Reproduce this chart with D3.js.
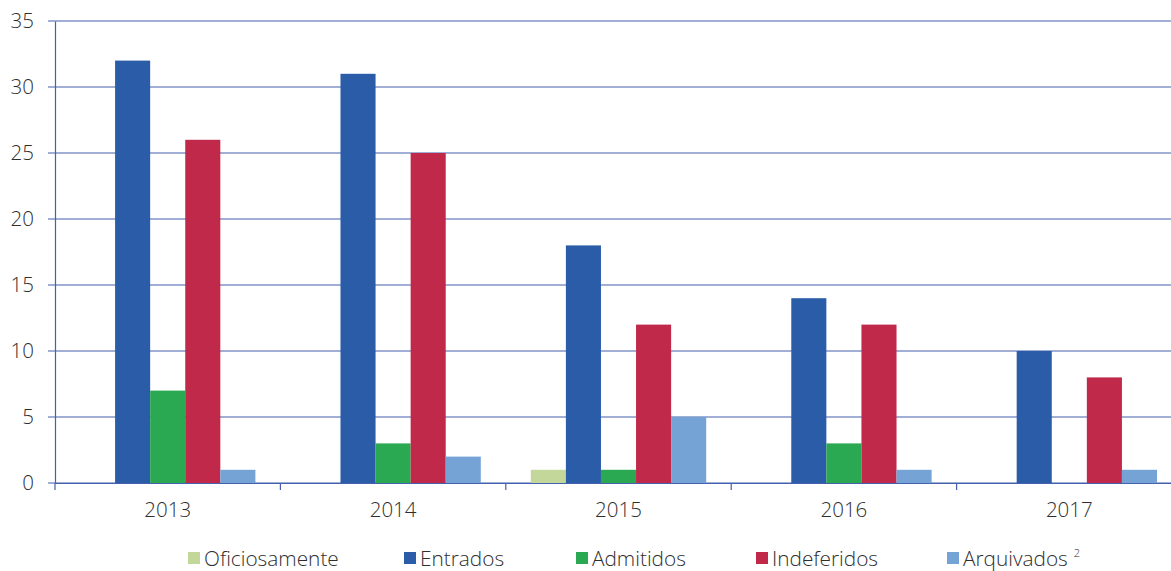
<!DOCTYPE html>
<html>
<head>
<meta charset="utf-8">
<script src="https://cdn.jsdelivr.net/npm/d3@7"></script>
<style>
  body { margin: 0; background: #fff; }
  svg { display: block; font-family: "Open Sans", sans-serif; }
  svg text { font-family: "Open Sans", sans-serif; fill: #2e2e2e; font-weight: 300; }
</style>
</head>
<body>
<svg id="chart" width="1171" height="571"></svg>
<script>
var years = ["2013", "2014", "2015", "2016", "2017"];
var seriesNames = ["Oficiosamente", "Entrados", "Admitidos", "Indeferidos", "Arquivados"];
var oficiosamente = [0, 0, 1, 0, 0];
var entrados = [32, 31, 18, 14, 10];
var admitidos = [7, 3, 1, 3, 0];
var indeferidos = [26, 25, 12, 12, 8];
var arquivados = [1, 2, 5, 1, 1];
var yTicks = [0, 5, 10, 15, 20, 25, 30, 35];

var colors = ["#c4d79b", "#2b5ca8", "#2aa952", "#c0294a", "#75a3d6"];
var values = [oficiosamente, entrados, admitidos, indeferidos, arquivados];

var svg = d3.select("#chart");
var mLeft = 55, mRight = 1182, mTop = 21, mBottom = 483;
var axisColor = "#4560ad";

var x = d3.scaleBand().domain(years).range([mLeft, mRight]).padding(0);
var xs = d3.scaleBand().domain(seriesNames).range([25, x.bandwidth() - 25]).padding(0);
var y = d3.scaleLinear().domain([0, 35]).range([mBottom, mTop]);

// grid lines
svg.append("g").selectAll("line")
  .data(yTicks).enter().append("line")
  .attr("x1", mLeft - 7).attr("x2", mRight)
  .attr("y1", function(d) { return y(d); })
  .attr("y2", function(d) { return y(d); })
  .attr("stroke", axisColor).attr("stroke-width", 1.2);

// bars
var groups = svg.append("g").selectAll("g")
  .data(years).enter().append("g")
  .attr("transform", function(d) { return "translate(" + x(d) + ",0)"; });

groups.selectAll("rect")
  .data(function(d, i) {
    return seriesNames.map(function(s, j) { return { s: s, v: values[j][i], c: colors[j] }; });
  })
  .enter().append("rect")
  .filter(function(d) { return d.v > 0; })
  .attr("x", function(d) { return xs(d.s); })
  .attr("width", xs.bandwidth())
  .attr("y", function(d) { return y(d.v); })
  .attr("height", function(d) { return mBottom - y(d.v); })
  .attr("fill", function(d) { return d.c; });

// y axis
var yAxis = svg.append("g")
  .attr("transform", "translate(" + mLeft + ",0)")
  .call(d3.axisLeft(y).tickValues(yTicks).tickSize(0).tickPadding(21));
yAxis.attr("font-family", null).attr("font-size", null);
yAxis.select(".domain").attr("stroke", axisColor).attr("stroke-width", 1.2);
yAxis.selectAll(".tick text").attr("font-size", 20.5).attr("dy", "0.33em");

// x axis
var xAxis = svg.append("g")
  .attr("transform", "translate(0," + mBottom + ")")
  .call(d3.axisBottom(x).tickSize(0).tickPadding(19));
xAxis.attr("font-family", null).attr("font-size", null);
xAxis.select(".domain").attr("stroke", axisColor).attr("stroke-width", 1.2);
xAxis.selectAll(".tick text").attr("font-size", 20.5);

// boundary ticks
svg.append("g").selectAll("line")
  .data(years).enter().append("line")
  .attr("x1", function(d) { return x(d); })
  .attr("x2", function(d) { return x(d); })
  .attr("y1", mBottom).attr("y2", mBottom + 7)
  .attr("stroke", axisColor).attr("stroke-width", 1.2);

// legend
var legendX = [188, 404, 576, 756, 947];
var legend = svg.append("g").selectAll("g")
  .data(seriesNames).enter().append("g")
  .attr("transform", function(d, i) { return "translate(" + legendX[i] + ",552)"; });
legend.append("rect")
  .attr("width", 12).attr("height", 12)
  .attr("fill", function(d, i) { return colors[i]; });
var lt = legend.append("text")
  .attr("x", 16).attr("y", 13.5)
  .attr("font-size", 20.8)
  .text(function(d) { return d; });
lt.filter(function(d) { return d === "Arquivados"; })
  .append("tspan").attr("font-size", 11).attr("dy", -9).attr("dx", 6).text("2");
</script>
</body>
</html>
